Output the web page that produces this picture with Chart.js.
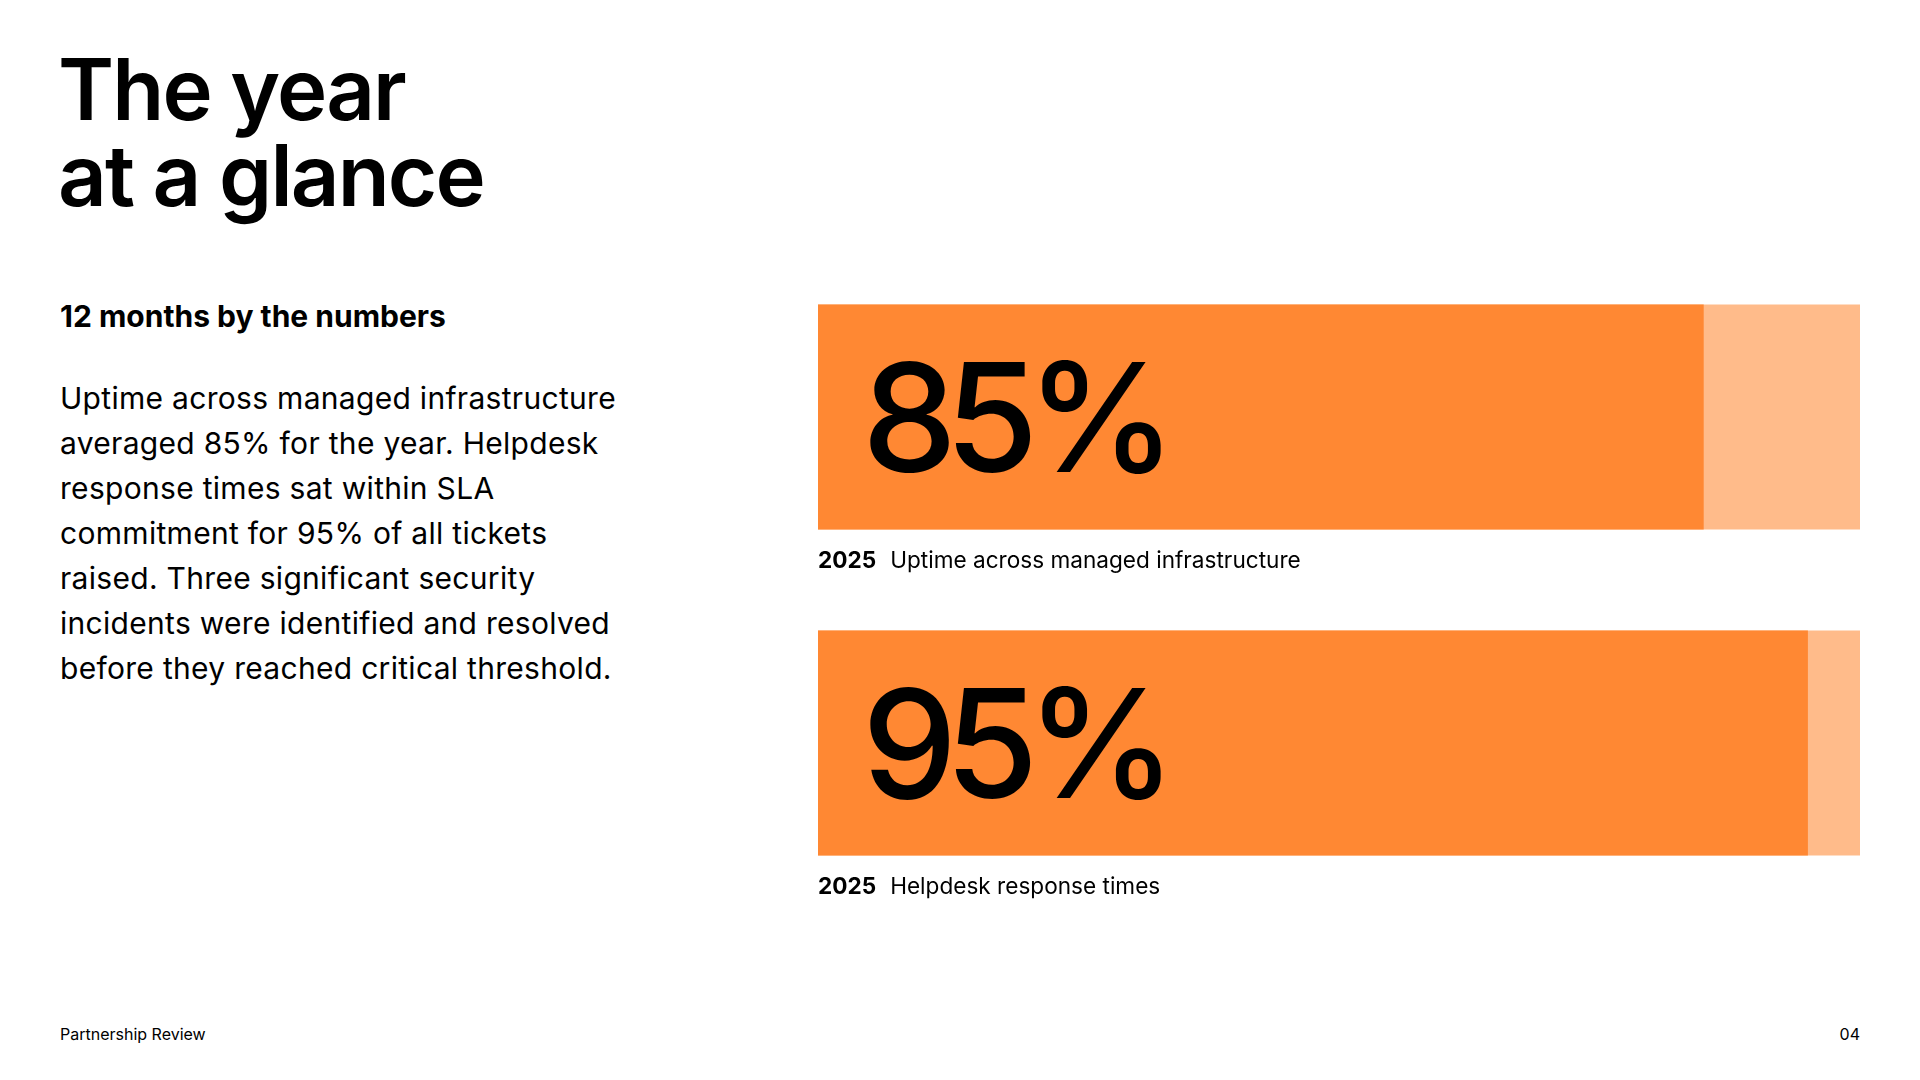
<!DOCTYPE html>
<html>
<head>
<meta charset="utf-8">
<script src="https://cdn.jsdelivr.net/npm/chart.js@4.4.1/dist/chart.umd.min.js"></script>
<style>
  html, body { margin: 0; padding: 0; background: #ffffff; }
  body { width: 1920px; height: 1080px; position: relative; overflow: hidden; font-family: Inter, "Noto Sans", sans-serif; color: #000; }
  .title { position: absolute; left: 58px; top: 47px; font-size: 85px; line-height: 86px; font-weight: 600; letter-spacing: -0.022em; margin: 0; }
  .subhead { position: absolute; left: 60px; top: 299px; font-size: 30px; line-height: 35px; font-weight: 700; letter-spacing: 0; margin: 0; }
  .body-text { position: absolute; left: 60px; top: 376px; font-size: 30px; line-height: 45px; font-weight: 400; letter-spacing: 0.3px; margin: 0; white-space: nowrap; }
  .footer { position: absolute; top: 1024px; font-size: 16px; line-height: 20px; }
  .footer.left { left: 60px; }
  .footer.right { right: 60px; }
  #chartWrap { position: absolute; left: 818px; top: 254px; width: 1042px; height: 652px; }
</style>
</head>
<body>
  <h1 class="title">The year<br>at a glance</h1>
  <div class="subhead">12 months by the numbers</div>
  <p class="body-text">Uptime across managed infrastructure<br>averaged 85% for the year. Helpdesk<br>response times sat within SLA<br>commitment for 95% of all tickets<br>raised. Three significant security<br>incidents were identified and resolved<br>before they reached critical threshold.</p>
  <div class="footer left">Partnership Review</div>
  <div class="footer right">04</div>
  <div id="chartWrap"><canvas id="statChart"></canvas></div>

<script>
// Data
const categories = ["Uptime across managed infrastructure", "Helpdesk response times"];
const years = ["2025", "2025"];
const values = [85, 95];
const trackValues = [100, 100];

const ORANGE = "#FF8833";
const ORANGE_LIGHT = "#FFBB8A";

// Big number inside each bar + caption under it
const statLabels = {
    id: "statLabels",
    afterDatasetsDraw(chart) {
        const ctx = chart.ctx;
        const meta = chart.getDatasetMeta(0);
        meta.data.forEach((bar, i) => {
            const bottom = bar.y + bar.height / 2;
            const left = bar.base;

            ctx.save();
            ctx.fillStyle = "#000";
            ctx.textBaseline = "alphabetic";
            ctx.textAlign = "left";

            // big percentage
            ctx.font = "500 151px Inter";
            ctx.letterSpacing = "-12px";
            ctx.fillText(values[i] + "%", left + 44, bar.y + 55);
            ctx.letterSpacing = "0px";

            // caption
            ctx.font = "700 22.6px Inter";
            ctx.fillText(years[i], left, bottom + 39);
            const w = ctx.measureText(years[i]).width;
            ctx.font = "400 22.6px Inter";
            ctx.fillText(categories[i], left + w + 14, bottom + 39);
            ctx.restore();
        });
    }
};

new Chart(document.getElementById("statChart"), {
    type: "bar",
    data: {
        labels: categories,
        datasets: [
            {
                data: values,
                backgroundColor: ORANGE,
                grouped: false,
                order: 0,
                borderWidth: 0,
                barPercentage: 0.69,
                categoryPercentage: 1
            },
            {
                data: trackValues,
                backgroundColor: ORANGE_LIGHT,
                grouped: false,
                order: 1,
                borderWidth: 0,
                barPercentage: 0.69,
                categoryPercentage: 1
            }
        ]
    },
    options: {
        indexAxis: "y",
        responsive: true,
        maintainAspectRatio: false,
        animation: false,
        layout: { padding: 0 },
        scales: {
            x: { min: 0, max: 100, display: false },
            y: { display: false }
        },
        plugins: {
            legend: { display: false },
            tooltip: { enabled: false }
        }
    },
    plugins: [statLabels]
});
</script>
</body>
</html>
